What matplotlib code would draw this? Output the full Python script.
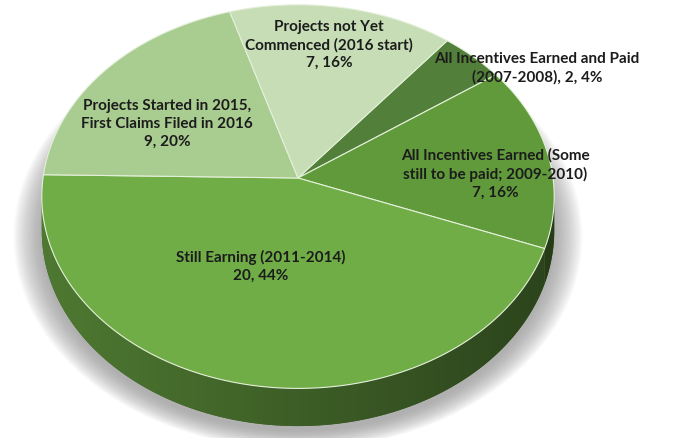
import numpy as np
import matplotlib
matplotlib.use("Agg")
import matplotlib.pyplot as plt
from matplotlib.patches import Polygon
from matplotlib.colors import to_rgb

# ---------------- data ----------------
categories = [
    "All Incentives Earned and Paid\n(2007-2008)",
    "All Incentives Earned (Some\nstill to be paid; 2009-2010)",
    "Still Earning (2011-2014)",
    "Projects Started in 2015,\nFirst Claims Filed in 2016",
    "Projects not Yet\nCommenced (2016 start)",
]
values = [2, 7, 20, 9, 7]
label_sep = [", ", "\n", "\n", "\n", "\n"]
top_colors = ["#52803a", "#609a3b", "#70ad47", "#a9cc90", "#c6ddb6"]

# ---------------- layout / style ----------------
W, H_PX = 677, 438
CX, CY = 298.0, 178.0
RX, RY, K = 255.0, 190.0, 0.097
DEPTH = 34.0
START = 51.0
label_pos = [(537, 68), (495, 174), (261, 266), (167, 124), (329, 45)]


def proj(r, phi, z=0.0):
    s, c = np.sin(phi), np.cos(phi)
    w = 1 + K * r * s
    return CX + RX * r * c / w, CY - RY * r * s / w + z / w


fig = plt.figure(figsize=(W / 100, H_PX / 100), dpi=100)
ax = fig.add_axes([0, 0, 1, 1])
ax.set_xlim(0, W)
ax.set_ylim(H_PX, 0)
ax.axis("off")

total = float(sum(values))
bounds = START - 360.0 * np.concatenate([[0], np.cumsum(values)]) / total
vis_lo, vis_hi = -180 + np.degrees(np.arcsin(K)), -np.degrees(np.arcsin(K))

# ---------------- soft shadow (stacked translucent layers) ----------------
ph = np.linspace(0, 2 * np.pi, 400)
bx, by = proj(1.0, ph, DEPTH)
mx, my = bx.mean(), by.mean()
for s in np.linspace(1.0, 1.11, 24):
    sx = mx + (bx - mx) * s
    sy = my + (by - my) * (1 + (s - 1) * 0.8) + 5
    ax.add_patch(Polygon(np.column_stack([sx, sy]), closed=True,
                         facecolor="#8a8a8a", edgecolor="none", alpha=0.04, zorder=1))

# ---------------- sides (gradient, clipped) ----------------
xs = np.arange(W) + 0.5
cosx = np.clip((xs - CX) / RX, -1, 1)
shade = 0.70 - 0.31 * (cosx + 1) / 2
for i, v in enumerate(values):
    hi, lo = bounds[i], bounds[i + 1]
    base = np.array(to_rgb(top_colors[i]))
    for shift in (-360, 0, 360):
        a = max(lo, vis_lo + shift)
        b = min(hi, vis_hi + shift)
        if b <= a:
            continue
        angs = np.radians(np.linspace(a, b, 200))
        tx, ty = proj(1.0, angs)
        bx2, by2 = proj(1.0, angs, DEPTH)
        pts = np.column_stack([np.concatenate([tx, bx2[::-1]]),
                               np.concatenate([ty, by2[::-1]])])
        poly = Polygon(pts, closed=True, facecolor=tuple(base * 0.55),
                       edgecolor="none", zorder=2)
        ax.add_patch(poly)
        img = np.zeros((1, W, 3))
        img[0] = np.clip(base[None, :] * shade[:, None], 0, 1)
        im = ax.imshow(img, extent=(0, W, H_PX, 0), origin="upper", zorder=2.1,
                       interpolation="bilinear", aspect="auto")
        im.set_clip_path(poly)

# ---------------- top faces ----------------
for i, v in enumerate(values):
    hi, lo = bounds[i], bounds[i + 1]
    angs = np.radians(np.linspace(hi, lo, 200))
    x, y = proj(1.0, angs)
    pts = np.column_stack([np.concatenate([[CX], x]), np.concatenate([[CY], y])])
    ax.add_patch(Polygon(pts, closed=True, facecolor=top_colors[i],
                         edgecolor="#e4f0da", linewidth=0.8, zorder=3))

# ---------------- labels ----------------
for i, v in enumerate(values):
    pct = int(round(100 * v / total))
    txt = f"{categories[i]}{label_sep[i]}{v}, {pct}%"
    ax.text(label_pos[i][0], label_pos[i][1], txt, ha="center", va="center",
            fontsize=11, fontweight="bold", family=["Lato", "DejaVu Sans"],
            color="#1c1c1c", linespacing=1.33, zorder=5)

ax.set_xlim(0, W)
ax.set_ylim(H_PX, 0)
ax.set_aspect("auto")
fig.savefig("out.png", dpi=100, facecolor="white")
